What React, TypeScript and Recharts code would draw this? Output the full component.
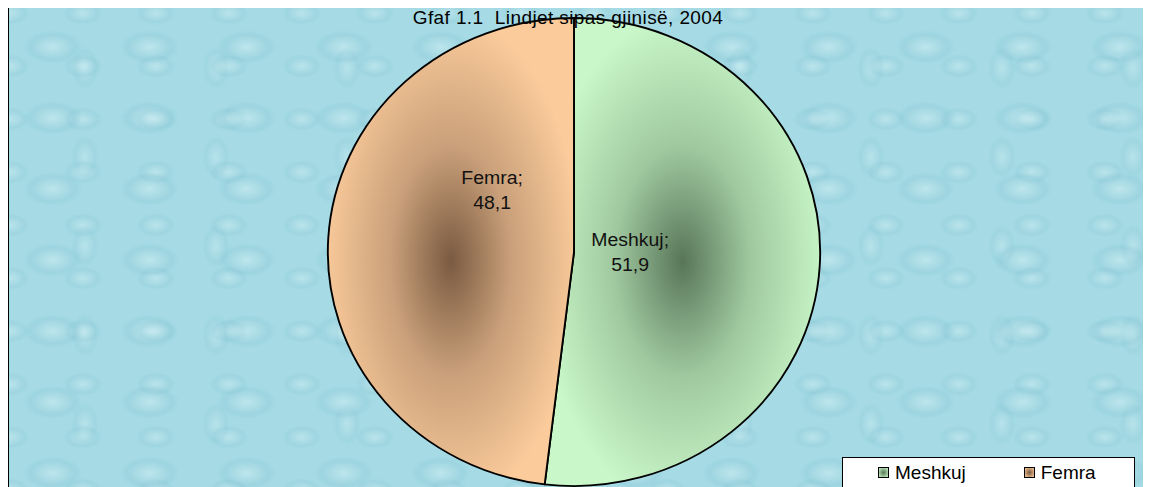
import { Pie, PieChart, Cell } from 'recharts';

// Births by sex, 2004 (percent)
const categories = ['Meshkuj', 'Femra'];
const shares = [51.9, 48.1];
const title = 'Gfaf 1.1  Lindjet sipas gjinisë, 2004';

const data = categories.map((name, i) => ({ name, value: shares[i] }));

// light edge / dark centre per slice, like Excel's "from centre" gradient
const SLICE_COLORS = [
  { id: 'gMesh', light: '#c9f7c9', mid: '#9fc89f', dark: '#587558' },
  { id: 'gFem', light: '#fbcb9b', mid: '#c9a07a', dark: '#7a5a41' },
];

// label offsets from pie centre, as fraction of radius
const LABEL_OFFSETS = [
  { dx: 0.24, dy: 0 },
  { dx: -0.35, dy: -0.265 },
];

const W = 1143;
const H = 480;
const CX = 565;
const STRETCH = 1.052; // the original pie is a slightly wide ellipse

const drop = (w: number, h: number, a: number) =>
  `radial-gradient(ellipse ${w}px ${h}px at 45% 55%, rgba(232,249,251,${a}), rgba(110,180,198,${a * 0.5}) 75%, transparent 100%)`;

function renderLabel(props: any) {
  const { cx, cy, outerRadius, index, name, value } = props;
  const o = LABEL_OFFSETS[index];
  const x = cx + (o.dx * outerRadius) / STRETCH;
  const y = cy + o.dy * outerRadius;
  const txt = String(value).replace('.', ',');
  return (
    <text
      x={x}
      y={y}
      textAnchor="middle"
      fill="#111"
      fontSize={18.5}
      fontFamily="Liberation Sans, Arial, sans-serif"
    >
      <tspan x={x} dy={-6}>{name};</tspan>
      <tspan x={x} dy={25}>{txt}</tspan>
    </text>
  );
}

function LegendBox() {
  return (
    <div
      style={{
        background: '#fff',
        border: '1px solid #000',
        width: 293,
        height: 31,
        display: 'flex',
        alignItems: 'center',
        fontFamily: 'Liberation Sans, Arial, sans-serif',
        fontSize: 19,
        color: '#000',
        boxSizing: 'border-box',
      }}
    >
      {categories.map((c, i) => (
        <div
          key={c}
          style={{
            display: 'flex',
            alignItems: 'center',
            marginLeft: i === 0 ? 35 : 58,
          }}
        >
          <span
            style={{
              display: 'inline-block',
              width: 9,
              height: 9,
              border: '1.5px solid #000',
              background: `radial-gradient(${SLICE_COLORS[i].dark}, ${SLICE_COLORS[i].light})`,
              marginRight: 6,
            }}
          />
          {c}
        </div>
      ))}
    </div>
  );
}

export default function App() {
  return (
    <div
      style={{
        position: 'relative',
        width: W,
        height: H,
        borderTop: '1px solid #000',
        borderLeft: '1px solid #000',
        marginTop: -1,
        background: [
          `${drop(30, 17, 0.35)} 0 0 / 97px 71px`,
          `${drop(20, 12, 0.3)} 41px 29px / 73px 53px`,
          `${drop(14, 22, 0.25)} 17px 11px / 131px 89px`,
          '#a6dbe5',
        ].join(', '),
        overflow: 'hidden',
      }}
    >
      <div
        style={{
          position: 'absolute',
          left: 0,
          width: 1118,
          top: -1,
          textAlign: 'center',
          fontFamily: 'Liberation Sans, Arial, sans-serif',
          fontSize: 19,
          letterSpacing: 0.4,
          color: '#000',
          zIndex: 2,
          whiteSpace: 'pre',
        }}
      >
        {title}
      </div>
      <div style={{ transform: `scaleX(${STRETCH})`, transformOrigin: `${CX}px 0` }}>
        <PieChart width={W} height={H} margin={{ top: 0, right: 0, bottom: 0, left: 0 }}>
          <defs>
            {SLICE_COLORS.map((s) => (
              <radialGradient key={s.id} id={s.id} cx="50%" cy="52%" r="70%">
                <stop offset="0%" stopColor={s.dark} />
                <stop offset="35%" stopColor={s.mid} />
                <stop offset="75%" stopColor={s.light} />
              </radialGradient>
            ))}
          </defs>
          <Pie
            data={data}
            dataKey="value"
            nameKey="name"
            cx={CX}
            cy={244}
            outerRadius={234}
            startAngle={90}
            endAngle={-270}
            stroke="#000"
            strokeWidth={1.8}
            label={renderLabel}
            labelLine={false}
            isAnimationActive={false}
          >
            {data.map((d, i) => (
              <Cell key={d.name} fill={`url(#${SLICE_COLORS[i].id})`} />
            ))}
          </Pie>
        </PieChart>
      </div>
      <div style={{ position: 'absolute', left: 833, top: 449 }}>
        <LegendBox />
      </div>
    </div>
  );
}
